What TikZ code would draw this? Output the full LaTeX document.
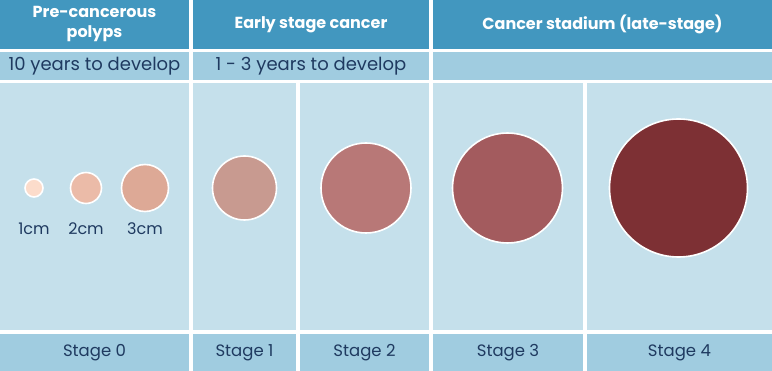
\documentclass[tikz,border=0pt]{standalone}
\usepackage{fontspec}
\setmainfont{Poppins}
\usetikzlibrary{positioning}
\definecolor{hdrblue}{HTML}{4297BF}
\definecolor{rowblue}{HTML}{A0CCE0}
\definecolor{bodyblue}{HTML}{C5E0EB}
\definecolor{navy}{HTML}{1F3A60}
\definecolor{polypA}{HTML}{FCDCCB}
\definecolor{polypB}{HTML}{EBBBA8}
\definecolor{polypC}{HTML}{DDA996}
\definecolor{tumorA}{HTML}{C89A90}
\definecolor{tumorB}{HTML}{B87877}
\definecolor{tumorC}{HTML}{A35B5E}
\definecolor{tumorD}{HTML}{7D3034}
\tikzset{%
  cell/.style={anchor=north west,inner sep=0pt,outer sep=0pt,align=center},
  hdr/.style={cell,fill=hdrblue,text=white,minimum height=49pt,font=\fontsize{16}{20}\selectfont\bfseries},
  dur/.style={cell,fill=rowblue,text=navy,minimum height=28pt,font=\fontsize{18}{20}\selectfont},
  body/.style={cell,fill=bodyblue,minimum height=247pt},
  stagebox/.style={cell,fill=rowblue,text=navy,minimum height=37pt,font=\fontsize{16.5}{18}\selectfont},
  growth/.style={circle,draw=white,line width=1.6pt,inner sep=0pt},
  size/.style={text=navy,font=\fontsize{16}{18}\selectfont}
}

\begin{document}
\begin{tikzpicture}[x=1pt,y=-1pt]
  \useasboundingbox (0,0) rectangle (772,371);

  % headers
  \node[hdr,minimum width=189pt] (pre) at (0,0) {Pre-cancerous\\polyps};
  \node[hdr,minimum width=236pt] (early) at (193,0) {Early stage cancer};
  \node[hdr,minimum width=339pt] (late) at (433,0) {Cancer stadium (late-stage)};

  \node[dur,minimum width=189pt] (tenyr) at (0,52) {10 years to develop};
  \node[dur,minimum width=236pt] (threeyr) at (193,52) {1 - 3 years to develop};
  \node[dur,minimum width=339pt] (noyr) at (433,52) {};

  % columns
  \node[body,minimum width=189pt] (col0) at (0,83) {};
  \node[body,minimum width=103pt] (col1) at (193,83) {};
  \node[body,minimum width=129pt] (col2) at (300,83) {};
  \node[body,minimum width=150pt] (col3) at (433,83) {};
  \node[body,minimum width=185pt] (col4) at (587,83) {};

  \node[stagebox,minimum width=189pt] (st0) at (0,334) {Stage 0};
  \node[stagebox,minimum width=103pt] (st1) at (193,334) {Stage 1};
  \node[stagebox,minimum width=129pt] (st2) at (300,334) {Stage 2};
  \node[stagebox,minimum width=150pt] (st3) at (433,334) {Stage 3};
  \node[stagebox,minimum width=185pt] (st4) at (587,334) {Stage 4};

  % polyps and tumours
  \node[growth,fill=polypA,minimum size=18pt] (p1) at (34,188) {};
  \node[growth,fill=polypB,minimum size=31pt] (p2) at (86,188) {};
  \node[growth,fill=polypC,minimum size=47pt] (p3) at (145,188) {};
  \node[size] (p1cm) at (34,229) {1cm};
  \node[size] (p2cm) at (86,229) {2cm};
  \node[size] (p3cm) at (145,229) {3cm};

  \node[growth,fill=tumorA,minimum size=64pt] (t1) at (244.5,188) {};
  \node[growth,fill=tumorB,minimum size=90pt] (t2) at (366,188) {};
  \node[growth,fill=tumorC,minimum size=110pt] (t3) at (507.5,188) {};
  \node[growth,fill=tumorD,minimum size=138pt] (t4) at (678.5,188) {};
\end{tikzpicture}
\end{document}
